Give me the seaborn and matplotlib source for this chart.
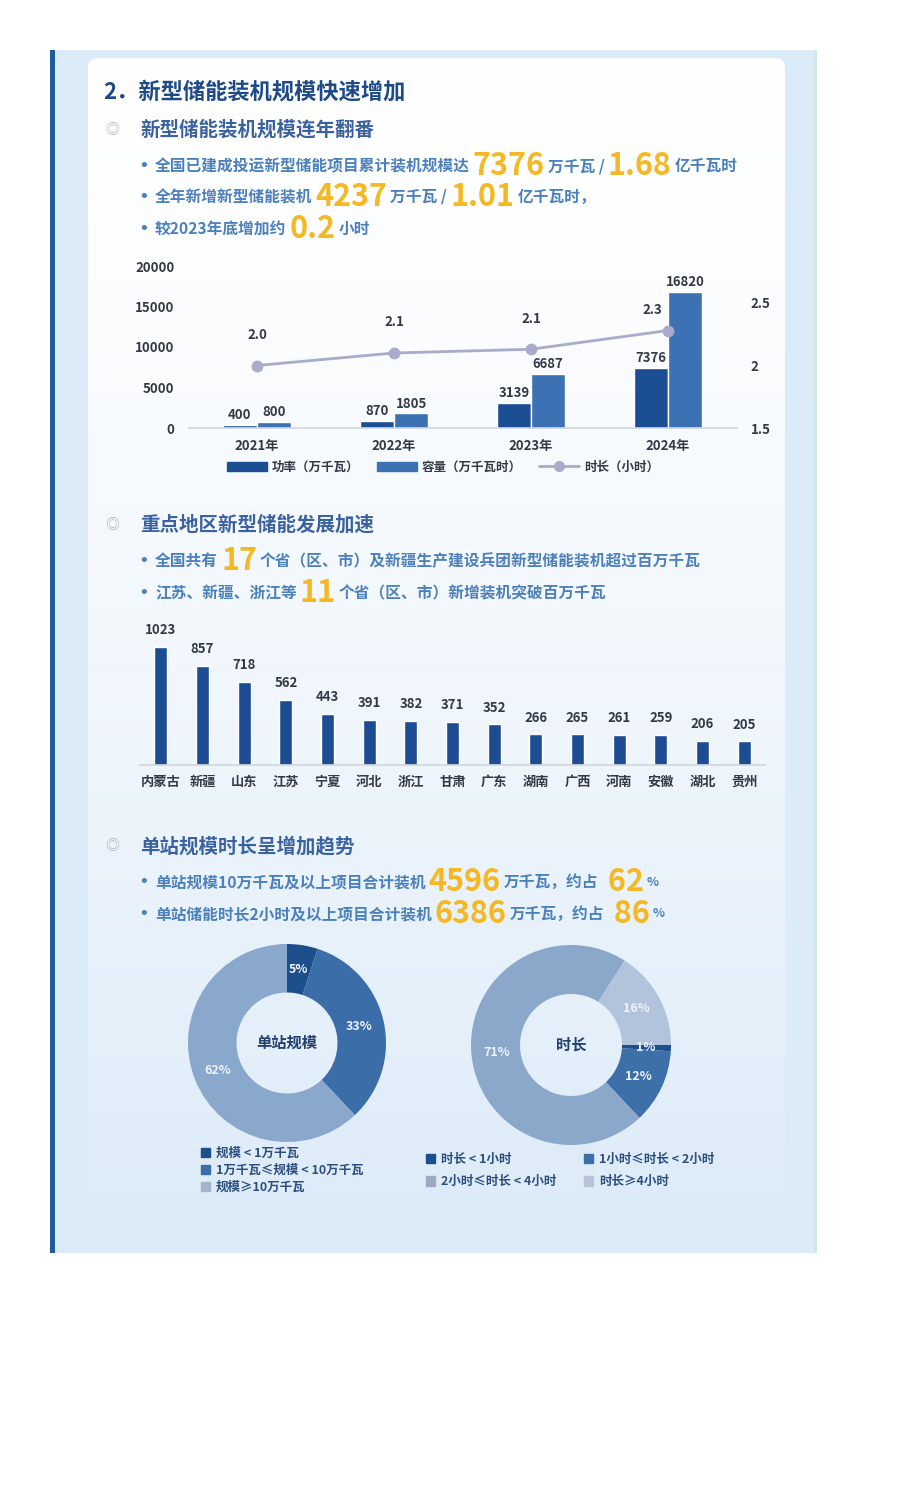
import numpy as np
import pandas as pd
import seaborn as sns
import matplotlib.pyplot as plt
from matplotlib.patches import Rectangle, FancyBboxPatch, Patch
from matplotlib.lines import Line2D

# --- 数据 ---
years = ['2021年', '2022年', '2023年', '2024年']
power = [400, 870, 3139, 7376]          # 功率（万千瓦）
capacity = [800, 1805, 6687, 16820]     # 容量（万千瓦时）
duration = [2.0, 2.1, 2.13, 2.28]       # 时长（小时），按图中点位读取
dur_labels = ['2.0', '2.1', '2.1', '2.3']

provinces = ['内蒙古', '新疆', '山东', '江苏', '宁夏', '河北', '浙江', '甘肃',
             '广东', '湖南', '广西', '河南', '安徽', '湖北', '贵州']
prov_values = [1023, 857, 718, 562, 443, 391, 382, 371, 352, 266, 265, 261, 259, 206, 205]

scale_labels = ['规模 < 1万千瓦', '1万千瓦≤规模 < 10万千瓦', '规模≥10万千瓦']
scale_share = [5, 33, 62]
dur_cat_labels = ['时长 < 1小时', '1小时≤时长 < 2小时', '2小时≤时长 < 4小时', '时长≥4小时']
dur_share = [1, 12, 71, 16]

# --- 颜色 ---
TITLE_C = '#1e4b87'
SEC_C = '#3b62a0'
BUL_C = '#4c80bc'
YEL = '#f5b823'
DARK = '#1b4e93'
MID = '#3c71b3'
LINE_C = '#a9abcc'
TXT = '#333a45'

sns.set_theme(style='white')
FONTS = ['Noto Sans CJK SC', 'DejaVu Sans']
plt.rcParams['font.family'] = FONTS
plt.rcParams['axes.unicode_minus'] = False

W, H = 900, 1500
fig = plt.figure(figsize=(9, 15), dpi=100)
fig.patch.set_facecolor('white')
renderer = fig.canvas.get_renderer()


def px_rect(x0, y0, x1, y1):
    return [x0 / W, 1 - y1 / H, (x1 - x0) / W, (y1 - y0) / H]


# 背景
bg = fig.add_axes([0, 0, 1, 1], zorder=-10)
bg.set_xlim(0, W)
bg.set_ylim(H, 0)
bg.axis('off')
bg.add_patch(Rectangle((50, 50), 767, 1203, color='#dcebf8', lw=0))
bg.add_patch(Rectangle((50, 50), 5, 1203, color='#1d5aa0', lw=0))
bg.add_patch(Rectangle((814, 50), 3, 1203, color='#cfe8ea', lw=0))
card = FancyBboxPatch((88, 58), 697, 1137, boxstyle='round,pad=0,rounding_size=10',
                      facecolor='none', edgecolor='none')
bg.add_patch(card)
grad = np.linspace(0, 1, 256).reshape(-1, 1) ** 1.4
top = np.array([1.0, 1.0, 1.0])
bot = np.array([0.87, 0.925, 0.975])
img = top + (bot - top) * grad[..., None]
im = bg.imshow(img, extent=(88, 785, 1195, 58), aspect='auto', zorder=1)
im.set_clip_path(card)


def chain(x, y, parts, gap=3):
    for text, size, color in parts:
        t = fig.text(x / W, 1 - y / H, text, fontsize=size, color=color,
                     weight='bold', va='center', ha='left', family=FONTS)
        x += t.get_window_extent(renderer).width + gap


def section(y, text):
    fig.text(112 / W, 1 - y / H, '◎', fontsize=10, color='#a9b0bd', va='center',
             ha='center', family=FONTS)
    fig.text(140 / W, 1 - y / H, text, fontsize=14, color=SEC_C, weight='bold',
             va='center', family=FONTS)


def bullet(y, parts):
    fig.text(144 / W, 1 - y / H, '•', fontsize=13, color=BUL_C, va='center',
             ha='center', family=['DejaVu Sans'])
    chain(155, y, parts)


S, B = 11.3, 22
fig.text(103 / W, 1 - 92 / H, '2．新型储能装机规模快速增加', fontsize=16, color=TITLE_C,
         weight='bold', va='center', family=FONTS)

section(130, '新型储能装机规模连年翻番')
bullet(166, [('全国已建成投运新型储能项目累计装机规模达', S, BUL_C), ('7376', B, YEL),
             ('万千瓦 /', S, BUL_C), ('1.68', B, YEL), ('亿千瓦时', S, BUL_C)])
bullet(197, [('全年新增新型储能装机', S, BUL_C), ('4237', B, YEL), ('万千瓦 /', S, BUL_C),
             ('1.01', B, YEL), ('亿千瓦时，', S, BUL_C)])
bullet(229, [('较2023年底增加约', S, BUL_C), ('0.2', B, YEL), ('小时', S, BUL_C)])

# --- 图1：装机规模 ---
ax1 = fig.add_axes(px_rect(188.5, 266, 736.5, 428))
ax1.set_facecolor('none')
df1 = pd.DataFrame({'年份': years * 2,
                    '值': power + capacity,
                    '类型': ['功率（万千瓦）'] * 4 + ['容量（万千瓦时）'] * 4})
sns.barplot(data=df1, x='年份', y='值', hue='类型', palette=[DARK, MID],
            width=0.5, gap=0, saturation=1, legend=False, ax=ax1)
for cont in ax1.containers:
    ax1.bar_label(cont, fmt='%d', padding=2, fontsize=9.5, weight='bold', color=TXT)
ax1.set_ylim(0, 20000)
ax1.set_yticks([0, 5000, 10000, 15000, 20000])
ax1.set_xlabel('')
ax1.set_ylabel('')
sns.despine(ax=ax1, left=True)
ax1.spines['bottom'].set_color('#cfd5de')
ax1.spines['bottom'].set_linewidth(1.2)
ax1.tick_params(axis='both', length=0, labelsize=9.5, labelcolor=TXT)
ax1.tick_params(axis='x', pad=8)
ax1.tick_params(axis='y', pad=10)
for lab in ax1.get_xticklabels() + ax1.get_yticklabels():
    lab.set_fontweight('bold')

ax2 = ax1.twinx()
ax2.set_facecolor('none')
sns.pointplot(x=years, y=duration, color=LINE_C, errorbar=None, markersize=7,
              linewidth=2, ax=ax2)
ax2.set_ylim(1.5, 1.5 + 0.5 * 162 / 62.5)
ax2.set_yticks([1.5, 2, 2.5])
ax2.set_yticklabels(['1.5', '2', '2.5'])
offsets = [(0, 17), (0, 17), (0, 17), (-11, 10)]
for i, lab in enumerate(dur_labels):
    ax2.annotate(lab, (i, duration[i]), xytext=offsets[i], textcoords='offset points',
                 ha='center', va='bottom', fontsize=9.5, weight='bold', color=TXT)
for sp in ax2.spines.values():
    sp.set_visible(False)
ax2.tick_params(axis='y', length=0, labelsize=9.5, labelcolor=TXT, pad=10)
for lab in ax2.get_yticklabels():
    lab.set_fontweight('bold')
ax1.set_xlim(-0.5, 3.5)

handles = [Patch(color=DARK), Patch(color=MID),
           Line2D([], [], color=LINE_C, lw=2, marker='o', markersize=7)]
leg = fig.legend(handles, ['功率（万千瓦）', '容量（万千瓦时）', '时长（小时）'],
                 loc='center', bbox_to_anchor=(443 / W, 1 - 467 / H), ncol=3, frameon=False,
                 handlelength=3.2, handleheight=0.7, columnspacing=1.4, handletextpad=0.4,
                 prop={'size': 9, 'weight': 'bold', 'family': FONTS})
for t in leg.get_texts():
    t.set_color(TXT)

# --- 图2：重点地区 ---
section(525, '重点地区新型储能发展加速')
bullet(561, [('全国共有', S, BUL_C), ('17', B, YEL),
             ('个省（区、市）及新疆生产建设兵团新型储能装机超过百万千瓦', S, BUL_C)])
bullet(593, [('江苏、新疆、浙江等', S, BUL_C), ('11', B, YEL),
             ('个省（区、市）新增装机突破百万千瓦', S, BUL_C)])

ax3 = fig.add_axes(px_rect(140, 620, 765, 765))
ax3.set_facecolor('none')
sns.barplot(x=provinces, y=prov_values, color='#1c4d93', width=0.31, saturation=1, ax=ax3)
for cont in ax3.containers:
    ax3.bar_label(cont, fmt='%d', padding=7, fontsize=9.5, weight='bold', color=TXT)
ax3.set_ylim(0, 145 / 0.1155)
ax3.set_xlim(-0.5, 14.5)
ax3.set_yticks([])
sns.despine(ax=ax3, left=True)
ax3.spines['bottom'].set_color('#cfd5de')
ax3.spines['bottom'].set_linewidth(1.2)
ax3.tick_params(axis='x', length=0, labelsize=9.5, labelcolor=TXT, pad=7)
for lab in ax3.get_xticklabels():
    lab.set_fontweight('bold')

# --- 图3：单站规模 / 时长 ---
section(846, '单站规模时长呈增加趋势')
bullet(882, [('单站规模10万千瓦及以上项目合计装机', S, BUL_C), ('4596', B, YEL),
             ('万千瓦，约占', S, BUL_C), (' 62', B, YEL), ('%', 9, BUL_C)])
bullet(914, [('单站储能时长2小时及以上项目合计装机', S, BUL_C), ('6386', B, YEL),
             ('万千瓦，约占', S, BUL_C), (' 86', B, YEL), ('%', 9, BUL_C)])


def donut(cx, cy, r, values, colors, start, center_text):
    ax = fig.add_axes(px_rect(cx - r, cy - r, cx + r, cy + r))
    ax.pie(values, colors=colors, startangle=start, counterclock=False,
           wedgeprops={'width': 0.49, 'linewidth': 0},
           autopct='%d%%', pctdistance=0.75,
           textprops={'fontsize': 9, 'weight': 'bold', 'color': '#eef3fa'})
    ax.set_xlim(-1, 1)
    ax.set_ylim(-1, 1)
    ax.set_aspect('equal')
    ax.text(0, 0, center_text, ha='center', va='center', fontsize=11, weight='bold',
            color='#23406e')
    return ax


donut(287, 1043, 99, scale_share, ['#1d4f8c', '#3b6ea8', '#8aa8cb'], 90, '单站规模')
donut(571, 1045, 100, dur_share, ['#1d4f8c', '#3d6fa9', '#8ba8cb', '#b2c3dc'], 0, '时长')

leg_kw = dict(frameon=False, handlelength=0.75, handleheight=0.75, handletextpad=0.45,
              prop={'size': 9, 'weight': 'bold', 'family': FONTS}, borderaxespad=0,
              borderpad=0)
lh = [Patch(color=c) for c in ['#1d4f8c', '#3b6ea8', '#a3b3c8']]
lg1 = fig.legend(lh, scale_labels, loc='upper left', bbox_to_anchor=(201 / W, 1 - 1147 / H),
                 labelspacing=0.32, **leg_kw)
rc = ['#1d4f8c', '#3d6fa9', '#9aaac0', '#b8c4d6']
order = [0, 2, 1, 3]
lg2 = fig.legend([Patch(color=rc[i]) for i in order], [dur_cat_labels[i] for i in order],
                 loc='upper left', bbox_to_anchor=(426 / W, 1 - 1153 / H), ncol=2,
                 labelspacing=0.75, columnspacing=2.2, **leg_kw)
for lg in (lg1, lg2):
    for t in lg.get_texts():
        t.set_color('#2c4f80')

fig.savefig('out.png', dpi=100)
